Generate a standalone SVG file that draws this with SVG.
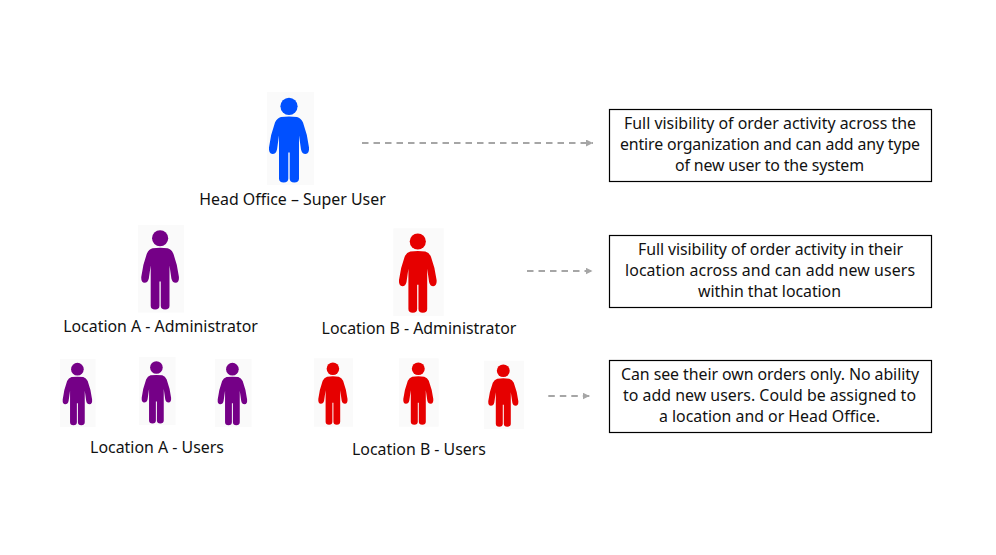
<svg xmlns="http://www.w3.org/2000/svg" width="996" height="555" viewBox="0 0 996 555">
<style>
text{font-family:"Noto Sans","Liberation Sans",sans-serif;font-size:15.900px;fill:#111;text-anchor:middle}
.box{fill:#fff;stroke:#000;stroke-width:1.2}
.bg{fill:#fafafa}
.c{fill:none;stroke:#a6a6a6;stroke-width:2;stroke-dasharray:6.500 5;marker-end:url(#a)}
.blue{color:#0050ff}.purple{color:#750087}.red{color:#e60000}
</style>
<defs>
<marker id="a" markerWidth="7" markerHeight="7" refX="7" refY="3.500" orient="auto" markerUnits="userSpaceOnUse"><path d="M0 0L7 3.500L0 7z" fill="#a6a6a6"/></marker>
<g id="p">
<circle cx="20" cy="8.800" r="8.600" fill="currentColor"/>
<path fill="currentColor" d="M12 19.500Q20 18.500 28 19.500Q32 20.500 34 25Q38.500 37 40 50Q40.500 56.500 36.500 56.500Q33 56.500 32 52L30 38V81Q30 85 25.300 85Q20.700 85 20.700 81V55H19.300V81Q19.300 85 14.700 85Q10 85 10 81V38L8 52Q7 56.500 3.500 56.500Q-.5 56.500 0 50Q1.500 37 6 25Q8 20.500 12 19.500Z"/>
</g>
</defs>
<g id="connectors">
<path class="c" d="M362 143H593"/>
<path class="c" d="M527 271H592.500"/>
<path class="c" d="M548.300 396H589.500"/>
</g>
<g id="head-office" class="blue"><rect class="bg" x="267" y="92" width="47" height="93"/><use href="#p" transform="translate(269 97.500)"/><text x="292.500" y="205">Head Office – Super User</text></g>
<g id="location-a-admin" class="purple"><rect class="bg" x="138" y="225" width="46" height="87.500"/><use href="#p" transform="translate(141.300 230) scale(.94 .935)"/><text x="160.500" y="332">Location A - Administrator</text></g>
<g id="location-b-admin" class="red"><rect class="bg" x="393.300" y="228.300" width="50.500" height="87.700"/><use href="#p" transform="translate(399 233.300) scale(.94 .935)"/><text x="419" y="334">Location B - Administrator</text></g>
<g id="location-a-user-1" class="purple"><rect class="bg" x="60" y="359" width="35.500" height="68"/><use href="#p" transform="translate(62.700 362.700) scale(.735)"/></g>
<g id="location-a-user-2" class="purple"><rect class="bg" x="139" y="357" width="36.500" height="68"/><use href="#p" transform="translate(141.700 361) scale(.735)"/></g>
<g id="location-a-user-3" class="purple"><rect class="bg" x="215" y="359" width="36.500" height="68"/><use href="#p" transform="translate(217.700 362.700) scale(.735)"/></g>
<text id="location-a-users-label" x="157" y="453">Location A - Users</text>
<g id="location-b-user-1" class="red"><rect class="bg" x="314" y="358.300" width="39" height="68.400"/><use href="#p" transform="translate(318.300 362.300) scale(.73 .735)"/></g>
<g id="location-b-user-2" class="red"><rect class="bg" x="399" y="358.300" width="39.700" height="68.400"/><use href="#p" transform="translate(403.300 362.300) scale(.75 .735)"/></g>
<g id="location-b-user-3" class="red"><rect class="bg" x="484" y="360.700" width="40" height="68.300"/><use href="#p" transform="translate(488.300 364.300) scale(.75 .735)"/></g>
<text id="location-b-users-label" x="419" y="455">Location B - Users</text>
<g id="box-1"><rect class="box" x="609.500" y="109.500" width="322" height="72"/>
<text x="770" y="129" textLength="292">Full visibility of order activity across the</text><text x="770" y="150" textLength="300">entire organization and can add any type</text><text x="769.500" y="171" textLength="189">of new user to the system</text></g>
<g id="box-2"><rect class="box" x="609.500" y="235.500" width="322" height="72"/>
<text x="770.500" y="255" textLength="265">Full visibility of order activity in their</text><text x="770" y="276" textLength="290">location across and can add new users</text><text x="769.500" y="297" textLength="143">within that location</text></g>
<g id="box-3"><rect class="box" x="609.500" y="360.500" width="322" height="72"/>
<text x="770" y="380" textLength="298">Can see their own orders only. No ability</text><text x="769.500" y="401" textLength="293">to add new users. Could be assigned to</text><text x="769.500" y="422" textLength="221">a location and or Head Office.</text></g>
</svg>
